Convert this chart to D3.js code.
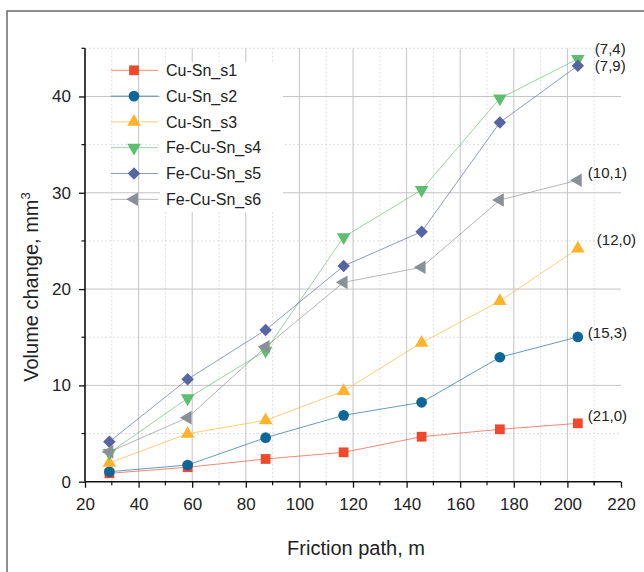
<!DOCTYPE html>
<html><head><meta charset="utf-8">
<script src="https://cdn.jsdelivr.net/npm/d3@7"></script>
<style>body{margin:0;background:#fff;} text{font-family:"Liberation Sans",Arial,sans-serif;fill:#222;}</style>
</head><body><svg id="c" width="644" height="572"></svg>
<script>
const xPath = [29.1, 58.3, 87.4, 116.5, 145.6, 174.8, 203.9];
const seriesNames = ["Cu-Sn_s1","Cu-Sn_s2","Cu-Sn_s3","Fe-Cu-Sn_s4","Fe-Cu-Sn_s5","Fe-Cu-Sn_s6"];
const s1 = [0.87, 1.5, 2.36, 3.05, 4.67, 5.44, 6.06];
const s2 = [1.04, 1.73, 4.57, 6.89, 8.24, 12.92, 15.03];
const s3 = [1.97, 4.98, 6.37, 9.42, 14.43, 18.76, 24.2];
const s4 = [3.0, 8.66, 13.6, 25.4, 30.3, 39.8, 43.9];
const s5 = [4.15, 10.63, 15.75, 22.4, 25.96, 37.3, 43.2];
const s6 = [3.1, 6.65, 14.0, 20.7, 22.26, 29.25, 31.3];
const endLabels = ["(21,0)","(15,3)","(12,0)","(7,4)","(7,9)","(10,1)"];
const xTicks = [20,40,60,80,100,120,140,160,180,200,220];
const yTicks = [0,10,20,30,40];

const colors = ["#F0482A","#0F6699","#FDB42A","#5CBE6E","#5566A2","#8B9096"];
const allSeries = [s1,s2,s3,s4,s5,s6];
const labelOff = [[10,-8],[10,-4],[19,-9],[17,-10],[17,0],[10,-7]];

const svg = d3.select("#c");
const x = d3.scaleLinear().domain([20,220]).range([85,621]);
const y = d3.scaleLinear().domain([0,45]).range([481.7,48.3]);

// outer frame
svg.append("path").attr("d","M7,600 L7,11 L650,11").attr("fill","none").attr("stroke","#6a6a6a").attr("stroke-width",1.5);

// grid
const g = svg.append("g");
const minorX = d3.range(30,220,20);
const minorY = d3.range(5,46,10);
g.selectAll(".mx").data(minorX).enter().append("line")
  .attr("x1",d=>x(d)).attr("x2",d=>x(d)).attr("y1",y(0)).attr("y2",y(45))
  .attr("stroke","#d6d6d6").attr("stroke-dasharray","2,2").attr("stroke-width",0.8);
g.selectAll(".my").data(minorY).enter().append("line")
  .attr("x1",x(20)).attr("x2",x(220)).attr("y1",d=>y(d)).attr("y2",d=>y(d))
  .attr("stroke","#d6d6d6").attr("stroke-dasharray","2,2").attr("stroke-width",0.8);
g.selectAll(".Mx").data(xTicks.filter(d=>d>20&&d<220)).enter().append("line")
  .attr("x1",d=>x(d)).attr("x2",d=>x(d)).attr("y1",y(0)).attr("y2",y(45))
  .attr("stroke","#c4c4c4").attr("stroke-width",1);
g.selectAll(".My").data(yTicks.filter(d=>d>0)).enter().append("line")
  .attr("x1",x(20)).attr("x2",x(220)).attr("y1",d=>y(d)).attr("y2",d=>y(d))
  .attr("stroke","#c4c4c4").attr("stroke-width",1);

// legend text background
svg.append("rect").attr("x",160).attr("y",62).attr("width",123).attr("height",150).attr("fill","#fff");

// axes
const xAxis = d3.axisBottom(x).tickValues(xTicks).tickSize(6).tickPadding(10).tickFormat(d3.format("d"));
const xg = svg.append("g").attr("transform",`translate(0,${y(0)})`).call(xAxis);
const yAxis = d3.axisLeft(y).tickValues(yTicks).tickSize(6).tickPadding(8).tickFormat(d3.format("d"));
const yg = svg.append("g").attr("transform",`translate(${x(20)},0)`).call(yAxis);
[xg,yg].forEach(a=>{
  a.select(".domain").attr("stroke","#111").attr("stroke-width",1.6);
  a.selectAll(".tick line").attr("stroke","#111").attr("stroke-width",1.3);
  a.selectAll(".tick text").style("font-size","17px").style("font-family","'Liberation Sans',Arial,sans-serif").attr("fill","#222");
});
xg.select(".domain").attr("d",`M${x(20)},0H${x(220)}`);
yg.select(".domain").attr("d",`M0,${y(0)}V${y(45)}`);
// minor ticks
xg.selectAll(".mt").data(minorX.concat([210])).enter().append("line")
  .attr("x1",d=>x(d)).attr("x2",d=>x(d)).attr("y1",0).attr("y2",3.5).attr("stroke","#111").attr("stroke-width",1.2);
yg.selectAll(".mt").data(minorY).enter().append("line")
  .attr("y1",d=>y(d)).attr("y2",d=>y(d)).attr("x1",0).attr("x2",-3.5).attr("stroke","#111").attr("stroke-width",1.2);

// axis titles
svg.append("text").attr("x",356).attr("y",555).attr("text-anchor","middle").style("font-size","20px").text("Friction path, m");
const yt = svg.append("text").attr("transform","translate(38,287) rotate(-90)").attr("text-anchor","middle").style("font-size","20px");
yt.append("tspan").text("Volume change, mm");
yt.append("tspan").attr("dy",-8).style("font-size","13px").text("3");

// symbols
function sym(i){
  const types = [d3.symbolSquare,d3.symbolCircle,d3.symbolTriangle,d3.symbolTriangle,d3.symbolSquare,d3.symbolTriangle];
  const sizes = [95,90,80,80,78,80];
  return d3.symbol().type(types[i]).size(sizes[i])();
}
const rot = [0,0,0,180,45,-90];

// series
const line = d3.line().x((d,i)=>x(xPath[i])).y(d=>y(d));
allSeries.forEach((s,i)=>{
  svg.append("path").attr("d",line(s)).attr("fill","none").attr("stroke",colors[i]).attr("stroke-opacity",0.65).attr("stroke-width",1);
});
allSeries.forEach((s,i)=>{
  svg.append("g").selectAll("path").data(s).enter().append("path")
    .attr("d",sym(i)).attr("fill",colors[i])
    .attr("transform",(d,j)=>`translate(${x(xPath[j])},${y(d)}) rotate(${rot[i]})`);
});
// end labels
allSeries.forEach((s,i)=>{
  const n = s.length-1;
  svg.append("text").attr("x",x(xPath[n])+labelOff[i][0]).attr("y",y(s[n])+labelOff[i][1]).attr("dy","0.35em")
    .style("font-size","15px").text(endLabels[i]);
});

// legend
const lg = svg.append("g");
seriesNames.forEach((name,i)=>{
  const yy = 70.3 + i*25.8;
  lg.append("line").attr("x1",111).attr("x2",158).attr("y1",yy).attr("y2",yy).attr("stroke",colors[i]).attr("stroke-opacity",0.65).attr("stroke-width",1);
  lg.append("path").attr("d",sym(i)).attr("fill",colors[i]).attr("transform",`translate(134,${yy}) rotate(${rot[i]})`);
  lg.append("text").attr("x",166).attr("y",yy).attr("dy","0.35em").style("font-size","16px").text(name);
});
</script></body></html>
